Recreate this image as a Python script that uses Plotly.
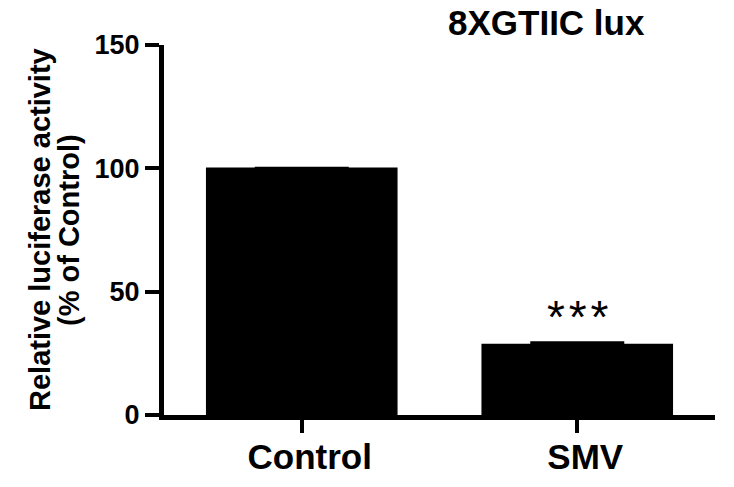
import plotly.graph_objects as go

categories = ["Control", "SMV"]
values = [100.0, 28.6]
errors = [0.0, 0.7]
yticks = [0, 50, 100, 150]
title_text = "8XGTIIC lux"
ytitle_lines = ["Relative luciferase activity", "(% of Control)"]
sig_label = "*\u200a*\u200a*"

FONT = "Arial, Liberation Sans, Helvetica, sans-serif"

L, R, T, B = 164, 19, 45, 72
W, H = 734, 487
PW, PH = W - L - R, H - T - B

fig = go.Figure()
fig.add_trace(go.Bar(
    x=categories, y=values, width=0.69,
    marker=dict(color="black", line=dict(color="black", width=1.5)),
    error_y=dict(type="data", array=errors, visible=True, color="black",
                 thickness=3, width=47),
))

fig.add_annotation(x="SMV", y=values[1] + errors[1], yref="y", xref="x",
                   text=sig_label, showarrow=False, yshift=26,
                   font=dict(family=FONT, size=46, color="black"))

fig.add_annotation(xref="paper", yref="paper",
                   x=(546 - L) / PW, y=1 + (T - 23) / PH,
                   xanchor="center", yanchor="middle",
                   text="<b>%s</b>" % title_text, showarrow=False,
                   font=dict(family=FONT, size=35, color="black"))

for txt, px in zip(ytitle_lines, [40, 69]):
    fig.add_annotation(xref="paper", yref="paper",
                       x=-(L - px) / PW, y=(H - B - 230) / PH,
                       text="<b>%s</b>" % txt,
                       textangle=-90, showarrow=False, xanchor="center", yanchor="middle",
                       font=dict(family=FONT, size=29, color="black"))

fig.update_layout(
    width=W, height=H,
    margin=dict(l=L, r=R, t=T, b=B, autoexpand=False),
    plot_bgcolor="white", paper_bgcolor="white",
    showlegend=False,
    font=dict(family=FONT, color="black"),
    xaxis=dict(range=[-0.5, 1.5], showline=True, linecolor="black", linewidth=5,
               ticks="outside", ticklen=13, tickwidth=4, tickcolor="black",
               tickfont=dict(family=FONT, size=35, weight="bold"),
               ticklabelshift=8, ticklabelstandoff=-6,
               showgrid=False, zeroline=False, automargin=False),
    yaxis=dict(range=[0, 150], tickvals=yticks, showline=True, linecolor="black",
               linewidth=5, ticks="outside", ticklen=14, tickwidth=4, tickcolor="black",
               tickfont=dict(family=FONT, size=27, weight="bold"),
               ticklabelstandoff=0,
               showgrid=False, zeroline=False, automargin=False),
)

fig.write_html("out.html")
